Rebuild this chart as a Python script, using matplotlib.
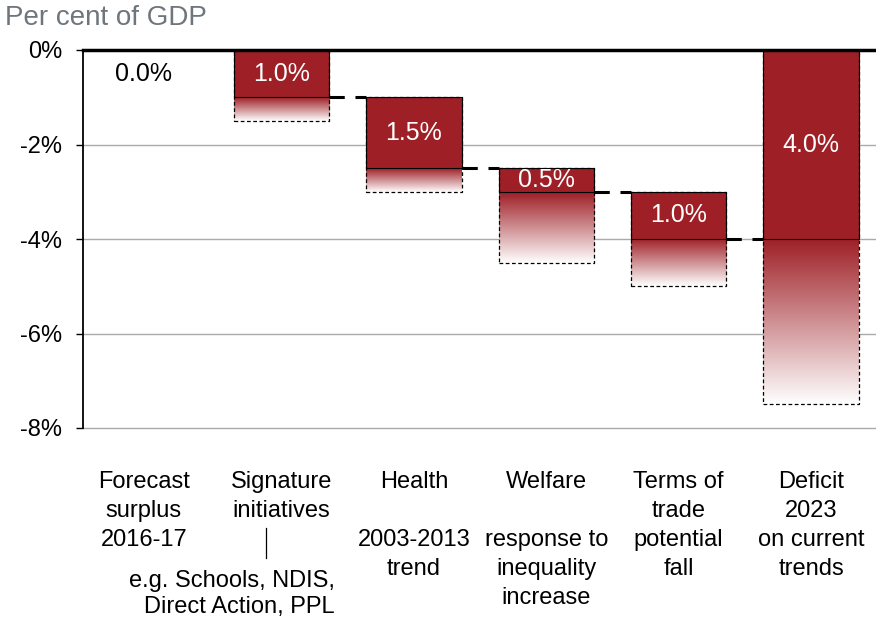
import numpy as np
import matplotlib
matplotlib.use("Agg")
import matplotlib.pyplot as plt
from matplotlib import transforms
from matplotlib.patches import Rectangle

plt.rcParams['font.family'] = ['Liberation Sans', 'DejaVu Sans']

# ---- data ----
categories = ["Forecast surplus 2016-17", "Signature initiatives", "Health",
              "Welfare", "Terms of trade", "Deficit 2023"]
label_lines = [
    ["Forecast", "surplus", "2016-17"],
    ["Signature", "initiatives"],
    ["Health", "", "2003-2013", "trend"],
    ["Welfare", "", "response to", "inequality", "increase"],
    ["Terms of", "trade", "potential", "fall"],
    ["Deficit", "2023", "on current", "trends"],
]
bar_top = [0.0, 0.0, -1.0, -2.5, -3.0, 0.0]      # where the solid bar starts
bar_value = [0.0, 1.0, 1.5, 0.5, 1.0, 4.0]       # solid bar size
bar_extension = [0.0, 0.5, 0.5, 1.5, 1.0, 3.5]   # possible extra (gradient)
value_labels = ["0.0%", "1.0%", "1.5%", "0.5%", "1.0%", "4.0%"]
yticks = [0, -2, -4, -6, -8]
ytick_labels = ["0%", "-2%", "-4%", "-6%", "-8%"]
note_lines = ["e.g. Schools, NDIS,", "Direct Action, PPL"]

RED = np.array([158, 31, 38]) / 255.0
FS = 17

fig = plt.figure(figsize=(8.76, 6.18), dpi=100)
ax = fig.add_axes([83/876, 1-428/618, 1-83/876, (428-50)/618])

x = np.arange(len(categories))
width = 0.72

for i in range(len(categories)):
    top = bar_top[i]
    v = bar_value[i]
    ext = bar_extension[i]
    if v > 0:
        ax.bar(x[i], -v, bottom=top, width=width, color=RED,
               edgecolor='black', linewidth=0.8, zorder=3)
    if ext > 0:
        y0 = top - v
        y1 = y0 - ext
        n = 256
        t = np.linspace(0, 1, n)[:, None]
        col = RED[None, :] * (1 - t) + np.ones(3)[None, :] * t
        img = col[:, None, :]
        ax.imshow(img, extent=[x[i]-width/2, x[i]+width/2, y1, y0],
                  aspect='auto', origin='upper', zorder=2, interpolation='bilinear')
        r = Rectangle((x[i]-width/2, y1), width, top - y1, fill=False,
                      edgecolor='black', linestyle=(0, (3, 2)), linewidth=0.9, zorder=4)
        ax.add_patch(r)
    if i == 0:
        ax.text(x[i] - 0.04, -0.5, value_labels[i], ha='center', va='center',
                fontsize=18, color='black', zorder=5)
    else:
        ax.text(x[i], top - v/2, value_labels[i], ha='center', va='center',
                fontsize=18, color='white', zorder=5)

# connectors
for i in range(1, len(categories)-1):
    level = bar_top[i] - bar_value[i]
    ax.plot([x[i]+width/2, x[i+1]-width/2], [level, level], color='black',
            linewidth=2.2, linestyle=(0, (5, 3.5)), zorder=5)

ax.set_xlim(-0.5, 5.49)
ax.set_ylim(-8, 0)
ax.set_yticks(yticks)
ax.set_yticklabels(ytick_labels, fontsize=FS)
ax.set_xticks([])
for yv in yticks[1:]:
    ax.axhline(yv, color='#AAAAAA', linewidth=1, zorder=1, clip_on=False)
ax.axhline(0, color='black', linewidth=2.5, zorder=6, clip_on=False)
for s in ['right', 'bottom', 'top']:
    ax.spines[s].set_visible(False)
ax.spines['left'].set_linewidth(1.3)
ax.tick_params(axis='y', length=5, width=1, pad=10)

# category labels
tr = transforms.blended_transform_factory(ax.transData, fig.transFigure)
for i, lines in enumerate(label_lines):
    dx = -0.04 if i == 0 else 0.0
    for j, ln in enumerate(lines):
        if ln:
            ax.text(x[i] + dx, 1 - (482 + 29*j)/618, ln, transform=tr, ha='center',
                    va='center', fontsize=FS, clip_on=False)

# note under signature initiatives
ax.plot([x[1]-0.12, x[1]-0.12], [1-528/618, 1-558/618], transform=tr,
        color='black', linewidth=0.9, clip_on=False)
for j, ln in enumerate(note_lines):
    ax.text(x[1]+0.40, 1 - (581 + 26*j)/618, ln, transform=tr, ha='right',
            va='center', fontsize=FS, clip_on=False)

fig.text(5/876, 1-18/618, "Per cent of GDP", fontsize=20, color='#6E757C',
         ha='left', va='center')

fig.savefig("out.png", dpi=100)
